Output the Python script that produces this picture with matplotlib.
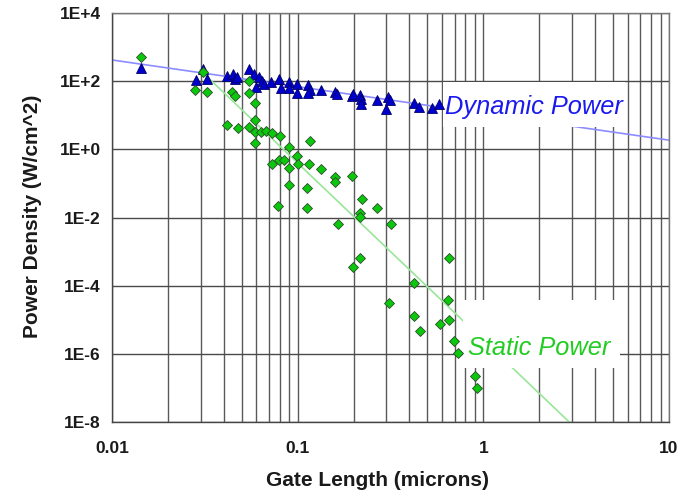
import numpy as np
import matplotlib
matplotlib.use('Agg')
import matplotlib.pyplot as plt
from matplotlib.patches import Rectangle
from matplotlib.ticker import LogLocator, NullLocator, NullFormatter

plt.rcParams['font.family'] = ['Liberation Sans', 'DejaVu Sans']

# dynamic power (triangles)
dyn_x = [0.0143, 0.0283, 0.0309, 0.0325, 0.0416, 0.0448, 0.0460, 0.0471, 0.0547, 0.0582,
         0.0596, 0.0619, 0.0642, 0.0658, 0.0718, 0.0793, 0.0813, 0.0898, 0.0898, 0.0991,
         0.0991, 0.1136, 0.1165, 0.1136, 0.1335, 0.1588, 0.1628, 0.1961, 0.1985, 0.2165,
         0.2193, 0.2193, 0.2673, 0.2988, 0.3064, 0.3140, 0.4229, 0.4498, 0.5287, 0.5766]
dyn_y = [244, 108, 228, 116, 142, 163, 116, 133, 228, 163,
         67.6, 133, 101, 82.8, 94.8, 116, 63.2, 94.8, 63.2, 82.8,
         45.1, 77.4, 55.2, 45.1, 55.2, 48.2, 42.2, 36.8, 42.2, 39.4,
         30.1, 21.4, 28.1, 15.3, 34.4, 28.1, 23.0, 17.5, 16.4, 21.4]

# static power (diamonds)
sta_x = [0.0143, 0.0280, 0.0309, 0.0325, 0.0416, 0.0443, 0.0460, 0.0477, 0.0547, 0.0547,
         0.0547, 0.0589, 0.0589, 0.0589, 0.0589, 0.0635, 0.0675, 0.0727, 0.0803, 0.0898,
         0.0991, 0.1165, 0.0727, 0.0793, 0.0844, 0.0898, 0.1004, 0.1150, 0.1335, 0.1588,
         0.1588, 0.1961, 0.0898, 0.0783, 0.1122, 0.1122, 0.2220, 0.2165, 0.2165, 0.2673,
         0.1648, 0.3180, 0.2165, 0.1985, 0.653, 0.4229, 0.310, 0.645, 0.4229, 0.4556,
         0.584, 0.653, 0.695, 0.730, 0.901, 0.924]
sta_y = [513, 55.2, 186, 48.2, 5.2, 48.2, 36.8, 4.25, 101, 45.1,
         4.54, 23.0, 7.28, 3.24, 1.54, 3.24, 3.47, 3.03, 2.47, 1.17,
         0.64, 1.76, 0.373, 0.489, 0.489, 0.285, 0.373, 0.373, 0.266, 0.155,
         0.111, 0.166, 0.0904, 0.0219, 0.0738, 0.0191, 0.0351, 0.01365, 0.0104, 0.0191,
         0.00649, 0.00649, 6.53e-4, 3.56e-4, 6.53e-4, 1.21e-4, 3.13e-5, 3.84e-5, 1.30e-5, 4.72e-6,
         7.59e-6, 9.93e-6, 2.40e-6, 1.07e-6, 2.26e-7, 1.01e-7]

# trend lines (end points)
dyn_fit_x = [0.01, 10]
dyn_fit_y = [419, 1.86]
sta_fit_x = [0.0298, 3.0]
sta_fit_y = [213, 8.4e-9]

yticks = [1e-8, 1e-6, 1e-4, 1e-2, 1e0, 1e2, 1e4]
ylabels = ['1E-8', '1E-6', '1E-4', '1E-2', '1E+0', '1E+2', '1E+4']
xticks = [0.01, 0.1, 1, 10]
xlabels = ['0.01', '0.1', '1', '10']

fig = plt.figure(figsize=(6.83, 4.94), dpi=100)
ax = fig.add_axes([112 / 683, 1 - 422 / 494, 557 / 683, 409 / 494])
ax.set_xscale('log')
ax.set_yscale('log')
ax.set_xlim(0.01, 10)
ax.set_ylim(1e-8, 1e4)

ax.set_xticks(xticks)
ax.set_xticklabels(xlabels)
ax.xaxis.set_minor_locator(LogLocator(base=10, subs=np.arange(2, 10)))
ax.xaxis.set_minor_formatter(NullFormatter())
ax.set_yticks(yticks)
ax.set_yticklabels(ylabels)
ax.yaxis.set_minor_locator(NullLocator())
ax.tick_params(axis='both', which='both', length=0)
ax.tick_params(axis='x', pad=14, labelsize=12.5)
ax.tick_params(axis='y', pad=8, labelsize=12.5)
for lab in ax.get_xticklabels() + ax.get_yticklabels():
    lab.set_fontweight('bold')
    lab.set_color('#1a1a1a')

ax.set_axisbelow(True)
ax.grid(True, axis='x', which='both', color='#5a5a5a', linewidth=1.0)
ax.grid(True, axis='y', which='major', color='#4a4a4a', linewidth=1.0)
for s in ax.spines.values():
    s.set_color('#777777')
    s.set_linewidth(1.0)
ax.spines['left'].set_color('#444444')
ax.spines['bottom'].set_color('#444444')

ax.plot(dyn_fit_x, dyn_fit_y, color='#8c8cff', linewidth=1.2, zorder=2)
ax.plot(sta_fit_x, sta_fit_y, color='#99e699', linewidth=1.2, zorder=2)

# white label boxes
ax.add_patch(Rectangle((0.594, 0.721), 0.327, 0.110, transform=ax.transAxes,
                       facecolor='white', edgecolor='none', zorder=3))
ax.add_patch(Rectangle((0.630, 0.132), 0.282, 0.166, transform=ax.transAxes,
                       facecolor='white', edgecolor='none', zorder=3))

ax.plot(dyn_x, dyn_y, linestyle='none', marker='^', markersize=7,
        markerfacecolor='#0000cc', markeredgecolor='#000066', markeredgewidth=0.6, zorder=4)
ax.plot(sta_x, sta_y, linestyle='none', marker='D', markersize=5,
        markerfacecolor='#0cc80c', markeredgecolor='#2a4a2a', markeredgewidth=0.6, zorder=4)

ax.text(0.621, 17.5, 'Dynamic Power', color='#1a1aee', fontsize=18.3, style='italic',
        ha='left', va='center', zorder=5)
ax.text(0.826, 1.5e-6, 'Static Power', color='#22cc22', fontsize=18.3, style='italic',
        ha='left', va='center', zorder=5)

fig.text(377 / 683, 1 - 480 / 494, 'Gate Length (microns)', ha='center', va='center',
         fontsize=15, fontweight='bold', color='#1a1a1a')
fig.text(33 / 683, 1 - 216 / 494, 'Power Density (W/cm^2)', ha='center', va='center',
         rotation=90, fontsize=15, fontweight='bold', color='#1a1a1a')

fig.savefig('out.png', dpi=100)
